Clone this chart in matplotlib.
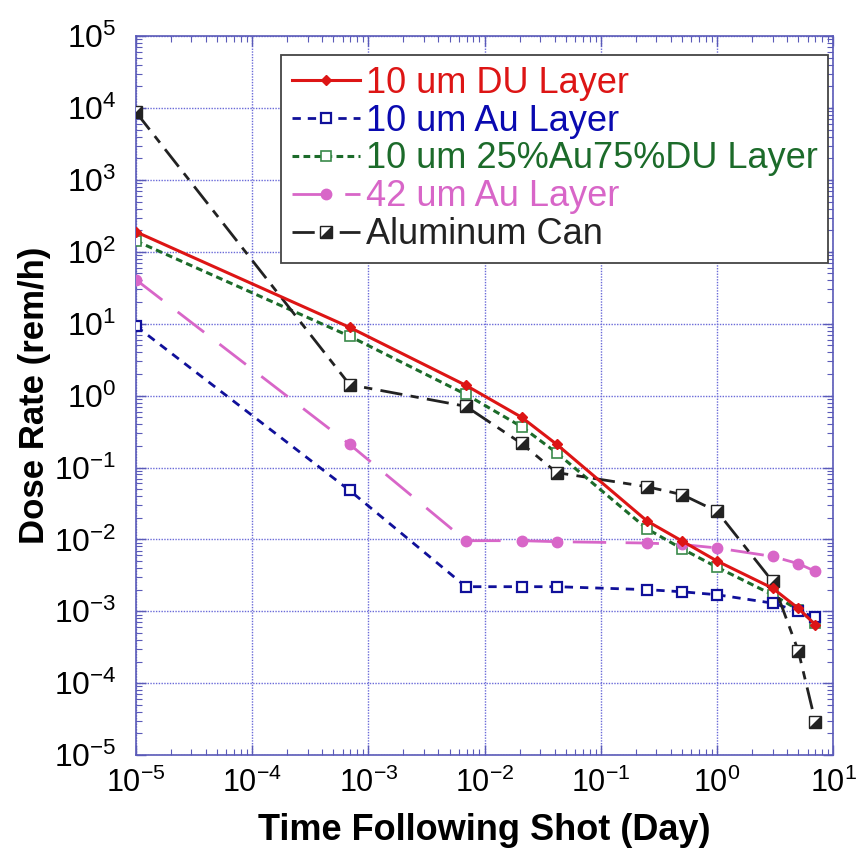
import matplotlib
matplotlib.use("Agg")
import matplotlib.pyplot as plt
from matplotlib.markers import MarkerStyle
from matplotlib.transforms import Affine2D
from matplotlib.ticker import LogLocator, NullFormatter

# time after shot in days (1 min, 10 min, 30 min, 1 h, 6 h, 12 h, 1 d, 3 d, 5 d, 7 d)
days = [1e-5, 6.9e-4, 6.9e-3, 0.0208, 0.0417, 0.25, 0.5, 1, 3, 5, 7]

du_10 = [190, 8.9, 1.39, 0.50, 0.21, 0.018, 0.0095, 0.0050, 0.0021, 0.0011, 0.00065]
au_10 = [9.3, 0.048, 0.0022, 0.0022, 0.0022, 0.0020, 0.00187, 0.0017, 0.0013, 0.0010, 0.00083]
mix_10 = [142, 6.7, 1.04, 0.37, 0.16, 0.014, 0.0074, 0.0041, 0.0017, 0.00105, 0.00069]
au_42 = [41, 0.21, 0.0096, 0.0096, 0.0093, 0.0089, 0.0085, 0.0076, 0.0058, 0.0046, 0.0036]
al_can = [8800, 1.42, 0.71, 0.216, 0.085, 0.054, 0.042, 0.0245, 0.0026, 0.00028, 0.000029]

labels = ["10 um DU Layer", "10 um Au Layer", "10 um 25%Au75%DU Layer",
          "42 um Au Layer", "Aluminum Can"]

plt.rcParams['font.family'] = ['Liberation Sans', 'DejaVu Sans']
plt.rcParams['mathtext.fontset'] = 'custom'
plt.rcParams['mathtext.rm'] = 'Liberation Sans'
plt.rcParams['mathtext.default'] = 'regular'

fig = plt.figure(figsize=(8.6, 8.61), dpi=100)
ax = fig.add_axes([0.158, 0.123, 0.811, 0.835])

axis_blue = '#5a5ab8'

red = '#dd1515'
blue = '#10109a'
green = '#1c6b2a'
pink = '#d866c8'
black = '#222222'

ax.plot(days, mix_10, color=green, lw=2.2, ls=(0, (2.2, 1.4)), marker='s', ms=6.5,
        mfc='white', mec='#3a8a4a', mew=1.2, label=labels[2], zorder=3)
ax.plot(days, au_10, color=blue, lw=2.0, ls=(0, (3, 2.5)), marker='s', ms=6.5,
        mfc='white', mec=blue, mew=1.6, label=labels[1], zorder=3)
ax.plot(days, au_42, color=pink, lw=2.0, ls=(0, (12, 7)), marker='o', ms=7.5,
        mfc=pink, mec=pink, label=labels[3], zorder=3)

# half filled square for the can: diamond split then turned 45 deg
half_sq = MarkerStyle('D', fillstyle='bottom', transform=Affine2D().rotate_deg(45))
ax.plot(days, al_can, color=black, lw=2.0, ls=(0, (8, 3, 3, 3)), marker=half_sq, ms=8,
        mfc=black, mfcalt='white', mec=black, mew=1.0, label=labels[4], zorder=4)
ax.plot(days, du_10, color=red, lw=2.2, ls='-', marker='D', ms=5,
        mfc=red, mec=red, label=labels[0], zorder=5)

ax.set_xscale('log')
ax.set_yscale('log')
ax.set_xlim(1e-5, 1e1)
ax.set_ylim(1e-5, 1e5)

ax.xaxis.set_major_locator(LogLocator(base=10, numticks=20))
ax.yaxis.set_major_locator(LogLocator(base=10, numticks=20))
ax.xaxis.set_minor_locator(LogLocator(base=10, subs=range(2, 10), numticks=100))
ax.yaxis.set_minor_locator(LogLocator(base=10, subs=range(2, 10), numticks=100))
ax.xaxis.set_minor_formatter(NullFormatter())
ax.yaxis.set_minor_formatter(NullFormatter())

ax.grid(True, which='major', color='#6a6ad8', ls=(0, (1, 1)), lw=1.0)
for s in ax.spines.values():
    s.set_color(axis_blue)
    s.set_linewidth(1.2)
ax.tick_params(which='both', direction='in', top=True, right=True, color=axis_blue)
ax.tick_params(which='major', length=7, width=1.0)
ax.tick_params(which='minor', length=4, width=0.8)
ax.tick_params(axis='y', labelsize=23, pad=14)
ax.tick_params(axis='x', labelsize=22, pad=9)

ax.set_xlabel("Time Following Shot (Day)", fontsize=26, fontweight='bold', labelpad=10)
ax.set_ylabel("Dose Rate (rem/h)", fontsize=25, fontweight='bold', labelpad=2)

handles, labs = ax.get_legend_handles_labels()
order = [labels.index(l) for l in labs]
pairs = sorted(zip(order, handles, labs))
leg = ax.legend([p[1] for p in pairs], [p[2] for p in pairs], loc='upper right',
                bbox_to_anchor=(0.993, 0.974), borderaxespad=0, fontsize=26,
                fancybox=False, framealpha=1, edgecolor='#444444',
                handlelength=1.9, handletextpad=0.15, labelspacing=0.08,
                borderpad=0.3)
leg.get_frame().set_linewidth(1.3)
colors = {labels[0]: red, labels[1]: '#0a0ab0', labels[2]: green,
          labels[3]: pink, labels[4]: black}
for txt in leg.get_texts():
    txt.set_color(colors[txt.get_text()])

fig.savefig("out.png", dpi=100)
